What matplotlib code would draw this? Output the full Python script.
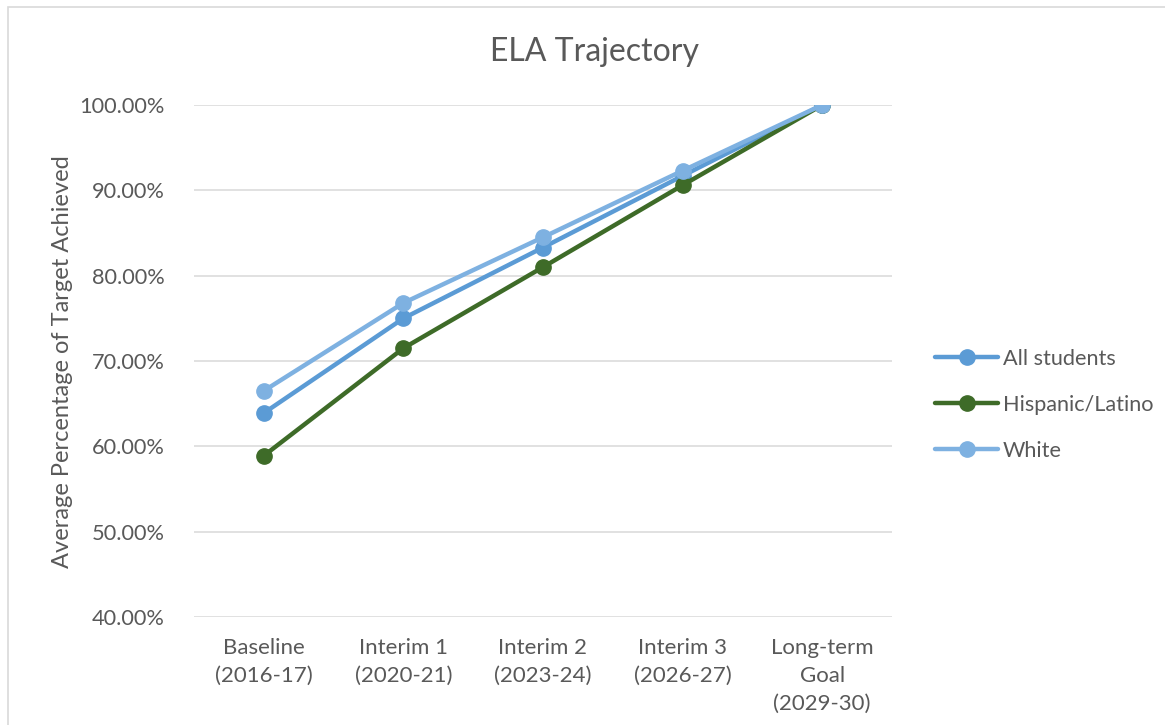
import matplotlib
matplotlib.use("Agg")
import matplotlib.pyplot as plt
from matplotlib.patches import Rectangle
from matplotlib.ticker import FuncFormatter

plt.rcParams['font.family'] = ['Lato', 'DejaVu Sans']

categories = ["Baseline\n(2016-17)", "Interim 1\n(2020-21)", "Interim 2\n(2023-24)",
              "Interim 3\n(2026-27)", "Long-term\nGoal\n(2029-30)"]
all_students = [63.9, 75.0, 83.3, 91.7, 100.0]
hispanic_latino = [58.9, 71.5, 81.0, 90.6, 100.0]
white = [66.5, 76.8, 84.5, 92.3, 100.0]

series_names = ["All students", "Hispanic/Latino", "White"]
series_values = [all_students, hispanic_latino, white]
series_colors = ["#5B9BD5", "#3E6B28", "#7EB1E1"]

text_color = "#595959"
grid_color = "#D9D9D9"

W, H = 1165, 725
fig = plt.figure(figsize=(W / 100, H / 100), dpi=100)
fig.patch.set_facecolor("white")

# chart frame
fig.patches.append(Rectangle((8 / W, -0.01), 1.02 - 8 / W, 1 - 7 / H + 0.01,
                             transform=fig.transFigure, fill=False,
                             edgecolor=grid_color, linewidth=1.2))

left, right = 194 / W, 892 / W
bottom, top = 1 - 617 / H, 1 - 105 / H
ax = fig.add_axes([left, bottom, right - left, top - bottom])

x = list(range(len(categories)))
# draw in order so that later series sit on top
draw_order = [1, 0, 2]
handles = {}
for i in draw_order:
    h, = ax.plot(x, series_values[i], color=series_colors[i], linewidth=3.2,
                 marker="o", markersize=11, solid_capstyle="round",
                 label=series_names[i], zorder=3 + i)
    handles[i] = h

ax.set_xlim(-0.5, len(categories) - 0.5)
ax.set_ylim(40, 100)
ax.set_yticks([40, 50, 60, 70, 80, 90, 100])
ax.yaxis.set_major_formatter(FuncFormatter(lambda v, p: f"{v:.2f}%"))
ax.set_xticks(x)
ax.set_xticklabels(categories, linespacing=1.5)
ax.yaxis.grid(True, color=grid_color, linewidth=1.1)
ax.set_axisbelow(True)
for s in ax.spines.values():
    s.set_visible(False)
ax.tick_params(axis="both", length=0, colors=text_color)
ax.tick_params(axis="y", pad=21, labelsize=15.7)
ax.tick_params(axis="x", pad=15, labelsize=16)
for lbl in ax.get_xticklabels():
    lbl.set_verticalalignment("top")

# axis title
fig.text(63 / W, 1 - 362 / H, "Average Percentage of Target Achieved",
         rotation=90, ha="center", va="center", color=text_color, fontsize=17)

fig.text(594 / W, 1 - 52 / H, "ELA Trajectory", ha="center",
         va="center", color=text_color, fontsize=23)

leg = fig.legend([handles[0], handles[1], handles[2]], series_names,
                 loc="center left", bbox_to_anchor=(916 / W, 1 - 405 / H),
                 frameon=False, fontsize=15.6, handlelength=2.9,
                 handletextpad=0.2, labelspacing=1.2, labelcolor=text_color)

fig.savefig("out.png", dpi=100, facecolor="white")
